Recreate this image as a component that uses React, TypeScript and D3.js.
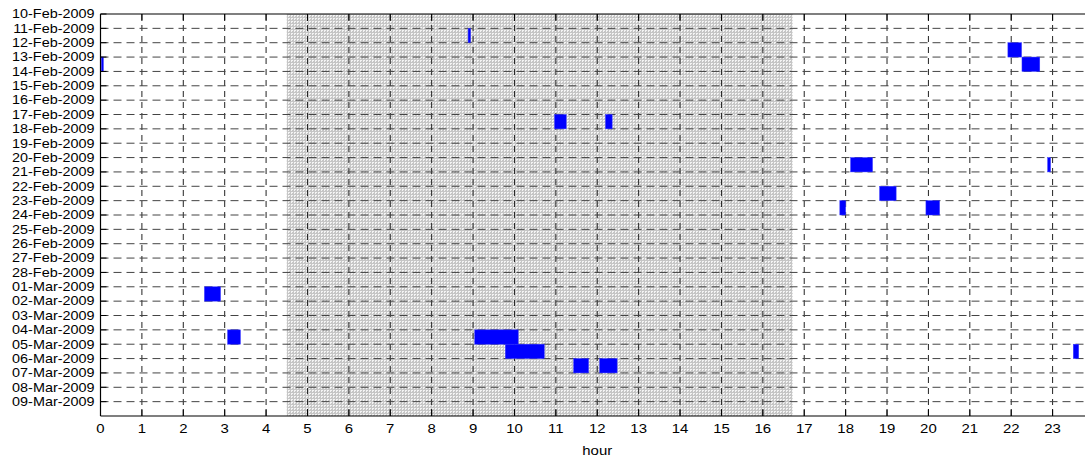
import React from 'react';
import * as d3 from 'd3';

const dateLabels = [
  '10-Feb-2009', '11-Feb-2009', '12-Feb-2009', '13-Feb-2009', '14-Feb-2009',
  '15-Feb-2009', '16-Feb-2009', '17-Feb-2009', '18-Feb-2009', '19-Feb-2009',
  '20-Feb-2009', '21-Feb-2009', '22-Feb-2009', '23-Feb-2009', '24-Feb-2009',
  '25-Feb-2009', '26-Feb-2009', '27-Feb-2009', '28-Feb-2009', '01-Mar-2009',
  '02-Mar-2009', '03-Mar-2009', '04-Mar-2009', '05-Mar-2009', '06-Mar-2009',
  '07-Mar-2009', '08-Mar-2009', '09-Mar-2009',
];
const hourTicks = [0, 1, 2, 3, 4, 5, 6, 7, 8, 9, 10, 11, 12, 13, 14, 15, 16, 17, 18, 19, 20, 21, 22, 23];

// activity blocks: date row, start hour, end hour
const blockDates = [
  '13-Feb-2009', '11-Feb-2009', '12-Feb-2009', '13-Feb-2009', '17-Feb-2009',
  '17-Feb-2009', '20-Feb-2009', '20-Feb-2009', '22-Feb-2009', '23-Feb-2009',
  '23-Feb-2009', '01-Mar-2009', '04-Mar-2009', '04-Mar-2009', '05-Mar-2009',
  '06-Mar-2009', '06-Mar-2009', '05-Mar-2009',
];
const blockStarts = [0.02, 8.88, 21.92, 22.26, 10.97, 12.2, 18.12, 22.88, 18.82, 17.86, 19.94, 2.51, 3.07, 9.04, 9.78, 11.43, 12.06, 23.5];
const blockEnds = [0.07, 8.94, 22.25, 22.69, 11.25, 12.36, 18.65, 22.95, 19.22, 18.0, 20.27, 2.9, 3.38, 10.09, 10.72, 11.79, 12.48, 23.63];

const shadeRange = [4.5, 16.72];

const W = 1085;
const H = 458;
const FONT = '"Liberation Sans", Arial, Helvetica, sans-serif';

export default function App() {
  const x = d3.scaleLinear().domain([0, 24]).range([100.5, 1094]);
  const y = d3.scaleLinear().domain([0, dateLabels.length]).range([14, 416]);
  const left = x(0);
  const right = x(24);
  const top = y(0);
  const bottom = y(dateLabels.length);

  return (
    <svg width={W} height={H} style={{ position: 'absolute', left: 0, top: 0, background: '#fff' }}>
      <defs>
        <pattern id="dots" width={3} height={3} patternUnits="userSpaceOnUse">
          <rect width={3} height={3} fill="#c6c6c6" />
          <rect x={0} y={0} width={2} height={1} fill="#f4f4f4" />
          <rect x={0} y={1} width={1} height={1} fill="#f4f4f4" />
        </pattern>
        <clipPath id="plotclip">
          <rect x={left} y={top} width={right - left} height={bottom - top} />
        </clipPath>
      </defs>

      {/* shaded region */}
      <rect
        x={x(shadeRange[0])}
        y={top}
        width={x(shadeRange[1]) - x(shadeRange[0])}
        height={bottom - top}
        fill="url(#dots)"
      />

      {/* grid */}
      <g clipPath="url(#plotclip)">
        {hourTicks.filter((h) => h > 0).map((h) => (
          <line key={'vg' + h} x1={x(h)} x2={x(h)} y1={top} y2={bottom}
            stroke="#222" strokeWidth={1} strokeDasharray="6,5" />
        ))}
        {dateLabels.map((d, i) => (i === 0 ? null : (
          <line key={'hg' + i} x1={left} x2={right} y1={y(i)} y2={y(i)}
            stroke="#444" strokeWidth={1} strokeDasharray="8,5" />
        )))}
      </g>

      {/* blocks */}
      {blockDates.map((d, i) => {
        const idx = dateLabels.indexOf(d);
        return (
          <rect key={'b' + i}
            x={x(blockStarts[i])}
            y={y(idx)}
            width={Math.max(1.5, x(blockEnds[i]) - x(blockStarts[i]))}
            height={y(idx + 1) - y(idx)}
            fill="#0000ff"
            stroke="#3a3aff"
            strokeWidth={0.5}
          />
        );
      })}

      {/* axes frame */}
      <line x1={left} x2={left} y1={top} y2={bottom} stroke="#000" strokeWidth={1.2} />
      <line x1={left} x2={right} y1={top} y2={top} stroke="#000" strokeWidth={1.2} />
      <line x1={left} x2={right} y1={bottom} y2={bottom} stroke="#000" strokeWidth={1.2} />

      {/* ticks */}
      {hourTicks.map((h) => (
        <g key={'xt' + h}>
          <line x1={x(h)} x2={x(h)} y1={bottom} y2={bottom - 7} stroke="#000" />
          <line x1={x(h)} x2={x(h)} y1={top} y2={top + 7} stroke="#000" />
          <text
            transform={`translate(${x(h)},${bottom + 17}) scale(1.15,1)`}
            textAnchor="middle"
            fontFamily={FONT}
            fontSize={13}
            fill="#000"
          >{h}</text>
        </g>
      ))}
      {dateLabels.map((d, i) => (
        <g key={'yt' + i}>
          <line x1={left} x2={left + 6} y1={y(i)} y2={y(i)} stroke="#000" />
          <text
            transform={`translate(${left - 6},${y(i)}) scale(1.2,1)`}
            textAnchor="end"
            dy="0.36em"
            fontFamily={FONT}
            fontSize={12}
            fill="#000"
          >{d}</text>
        </g>
      ))}

      <text
        transform={`translate(${(left + right) / 2},${H - 3}) scale(1.15,1)`}
        textAnchor="middle"
        fontFamily={FONT}
        fontSize={13}
        fill="#000"
      >hour</text>
    </svg>
  );
}
